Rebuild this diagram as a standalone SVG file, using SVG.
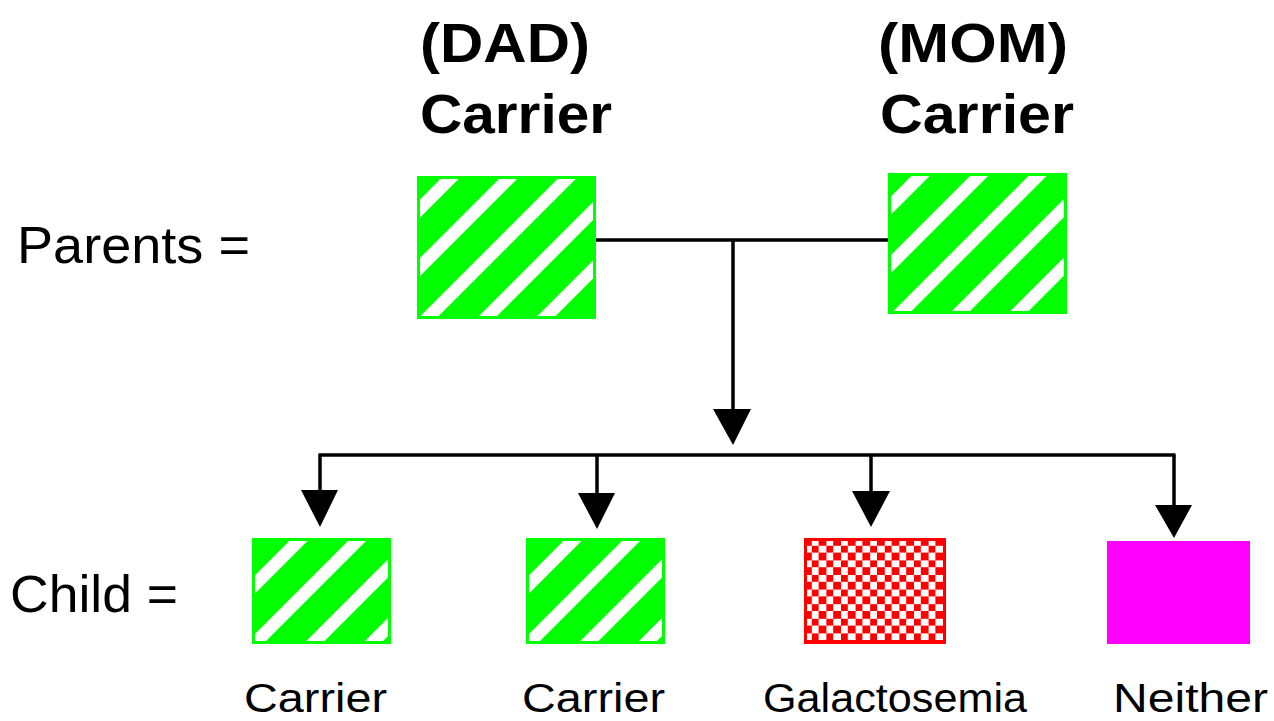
<svg xmlns="http://www.w3.org/2000/svg" width="1274" height="721" viewBox="0 0 1274 721">
<style>
.title{font-family:"Liberation Sans",Arial,sans-serif;font-weight:bold;font-size:55px;fill:#000}
.side{font-family:"Liberation Sans",Arial,sans-serif;font-size:52px;fill:#000}
.lbl{font-family:"Liberation Sans",Arial,sans-serif;font-size:40px;fill:#000}
.conn{stroke:#000;stroke-width:3.5;fill:none}
.head{fill:#000;stroke:none}
rect{shape-rendering:crispEdges}
</style>
<defs>
<pattern id="stripesP" patternUnits="userSpaceOnUse" width="41.37" height="20" patternTransform="rotate(45)">
<rect x="18.4" y="0" width="13.4" height="20" fill="#fff"/>
</pattern>
<pattern id="stripesC" patternUnits="userSpaceOnUse" width="41.37" height="20" patternTransform="rotate(45)">
<rect x="29" y="0" width="13.4" height="20" fill="#fff"/>
</pattern>
<pattern id="checker" patternUnits="userSpaceOnUse" width="14.6" height="14.6">
<rect x="0" y="0" width="14.6" height="14.6" fill="#ff0000"/>
<rect x="7.3" y="0" width="7.3" height="7.3" fill="#fff"/>
<rect x="0" y="7.3" width="7.3" height="7.3" fill="#fff"/>
</pattern>
</defs>
<rect width="1274" height="721" fill="#fff"/>

<g id="labels-side">
<text class="side" x="17" y="263" textLength="233" lengthAdjust="spacingAndGlyphs">Parents =</text>
<text class="side" x="10" y="612" textLength="168" lengthAdjust="spacingAndGlyphs">Child =</text>
</g>

<g id="connectors">
<line class="conn" x1="596" y1="240" x2="888" y2="240"/>
<line class="conn" x1="733" y1="240" x2="733" y2="412"/>
<polygon class="head" points="713,409 751,409 733,445"/>
<line class="conn" x1="318.5" y1="455" x2="1175.5" y2="455"/>
<line class="conn" x1="320" y1="455" x2="320" y2="492"/>
<polygon class="head" points="301,490 338,490 320,527"/>
<line class="conn" x1="597" y1="455" x2="597" y2="496"/>
<polygon class="head" points="578,493 615,493 597,529"/>
<line class="conn" x1="871" y1="455" x2="871" y2="494"/>
<polygon class="head" points="852,491 890,491 871,527"/>
<line class="conn" x1="1174" y1="455" x2="1174" y2="507"/>
<polygon class="head" points="1155,505 1192,505 1174,538"/>
</g>

<g id="dad">
<text class="title" x="420" y="62" textLength="170" lengthAdjust="spacingAndGlyphs">(DAD)</text>
<text class="title" x="420" y="133" textLength="192" lengthAdjust="spacingAndGlyphs">Carrier</text>
<g transform="translate(417,176)">
<rect x="0" y="0" width="179" height="143" fill="#00ff00"/>
<rect x="3" y="3" width="173" height="137" fill="url(#stripesP)"/>
</g>
</g>

<g id="mom">
<text class="title" x="878" y="62" textLength="190" lengthAdjust="spacingAndGlyphs">(MOM)</text>
<text class="title" x="880" y="133" textLength="194" lengthAdjust="spacingAndGlyphs">Carrier</text>
<g transform="translate(888,173)">
<rect x="0" y="0" width="179" height="141" fill="#00ff00"/>
<rect x="3" y="3" width="173" height="135" fill="url(#stripesP)"/>
</g>
</g>

<g id="child1">
<g transform="translate(252,538)">
<rect x="0" y="0" width="139" height="106" fill="#00ff00"/>
<rect x="3" y="3" width="133" height="100" fill="url(#stripesC)"/>
</g>
<text class="lbl" x="244" y="712" textLength="143" lengthAdjust="spacingAndGlyphs">Carrier</text>
</g>

<g id="child2">
<g transform="translate(526,538)">
<rect x="0" y="0" width="139" height="106" fill="#00ff00"/>
<rect x="3" y="3" width="133" height="100" fill="url(#stripesC)"/>
</g>
<text class="lbl" x="522" y="712" textLength="143" lengthAdjust="spacingAndGlyphs">Carrier</text>
</g>

<g id="child3">
<g transform="translate(804,538)">
<rect x="0" y="0" width="142" height="106" fill="#ff0000"/>
<rect x="3.3" y="3" width="135.4" height="99" fill="url(#checker)"/>
</g>
<text class="lbl" x="763" y="712" textLength="264" lengthAdjust="spacingAndGlyphs">Galactosemia</text>
</g>

<g id="child4">
<rect x="1107" y="541" width="143" height="103" fill="#ff00ff"/>
<text class="lbl" x="1113" y="712" textLength="155" lengthAdjust="spacingAndGlyphs">Neither</text>
</g>
</svg>
